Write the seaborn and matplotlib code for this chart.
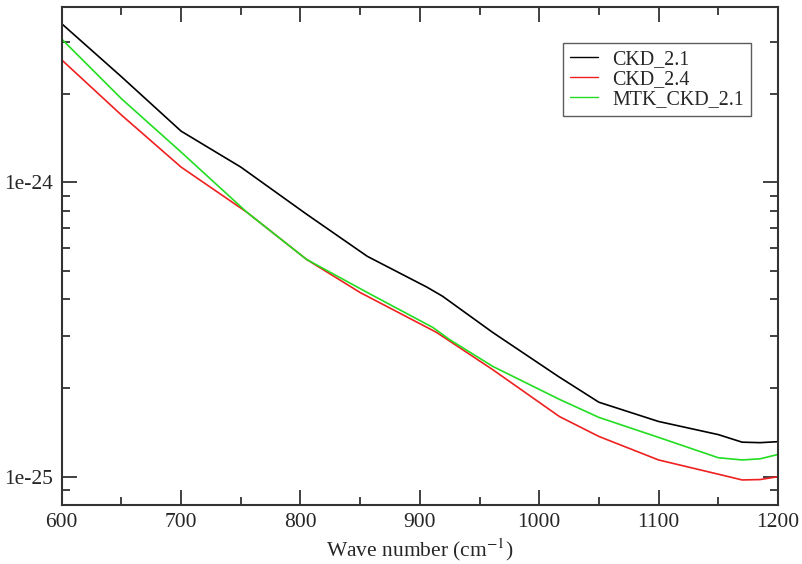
import numpy as np
import pandas as pd
import matplotlib
matplotlib.use("Agg")
import matplotlib.pyplot as plt
import matplotlib.ticker as mticker
import seaborn as sns

# ---- data ----
ckd21_x = [600, 650, 700, 750, 805, 856, 906, 919, 961, 1016, 1050, 1100, 1150, 1170, 1185, 1200]
ckd21_y = [3.45e-24, 2.28e-24, 1.49e-24, 1.125e-24, 7.79e-25, 5.60e-25, 4.40e-25,
           4.10e-25, 3.09e-25, 2.19e-25, 1.79e-25, 1.54e-25, 1.39e-25, 1.31e-25, 1.305e-25, 1.315e-25]

ckd24_x = [600, 650, 700, 755, 805, 850, 914, 961, 1017, 1050, 1100, 1150, 1170, 1185, 1200]
ckd24_y = [2.60e-24, 1.69e-24, 1.125e-24, 7.91e-25, 5.47e-25, 4.22e-25, 3.09e-25,
           2.31e-25, 1.60e-25, 1.37e-25, 1.14e-25, 1.02e-25, 9.75e-26, 9.78e-26, 1.0e-25]

mtk_x = [600, 650, 700, 755, 805, 856, 911, 925, 961, 1017, 1050, 1100, 1150, 1170, 1185, 1200]
mtk_y = [3.06e-24, 1.92e-24, 1.265e-24, 7.91e-25, 5.47e-25, 4.22e-25, 3.21e-25,
         2.92e-25, 2.37e-25, 1.83e-25, 1.59e-25, 1.36e-25, 1.16e-25, 1.14e-25, 1.15e-25, 1.19e-25]

series_names = ["CKD_2.1", "CKD_2.4", "MTK_CKD_2.1"]
series_colors = ["#000000", "#ee2020", "#22dd22"]
x_ticks = [600, 700, 800, 900, 1000, 1100, 1200]
y_ticks = [1e-25, 1e-24]
y_tick_labels = ["1e-25", "1e-24"]
x_label = "Wave number (cm$^{-1}$)"

frames = []
for name, xs, ys in zip(series_names, [ckd21_x, ckd24_x, mtk_x], [ckd21_y, ckd24_y, mtk_y]):
    frames.append(pd.DataFrame({"x": xs, "y": ys, "series": name}))
df = pd.concat(frames, ignore_index=True)

sns.set_style("ticks")
plt.rcParams["font.family"] = ["Liberation Serif", "DejaVu Serif"]
plt.rcParams["mathtext.fontset"] = "stix"

fig, ax = plt.subplots(figsize=(8.02, 5.64), dpi=100)
fig.subplots_adjust(left=0.077, right=0.970, top=0.988, bottom=0.105)

sns.lineplot(data=df, x="x", y="y", hue="series", hue_order=series_names,
             palette=series_colors, linewidth=1.2, ax=ax, legend=True, sort=True)

ax.set_yscale("log")
ax.set_xlim(600, 1200)
ax.set_ylim(8.03e-26, 3.94e-24)

ax.set_xticks(x_ticks)
ax.xaxis.set_minor_locator(mticker.MultipleLocator(50))
ax.yaxis.set_major_locator(mticker.FixedLocator(y_ticks))
ax.yaxis.set_major_formatter(mticker.FixedFormatter(y_tick_labels))
ax.yaxis.set_minor_locator(mticker.LogLocator(base=10, subs=np.arange(2, 10)))
ax.yaxis.set_minor_formatter(mticker.NullFormatter())

ax.tick_params(which="both", direction="in", top=True, right=True, color="#333333", width=1.3)
ax.tick_params(which="major", length=11, labelsize=15.5, pad=6)
ax.tick_params(which="minor", length=6)

for sp in ax.spines.values():
    sp.set_linewidth(1.5)
    sp.set_color("#333333")

ax.set_xlabel(x_label, fontsize=15.5, labelpad=3)
ax.set_ylabel("")

leg = ax.legend(loc="upper right", bbox_to_anchor=(0.962, 0.928), borderaxespad=0,
                fontsize=14.4, frameon=True, fancybox=False, handlelength=1.4,
                handletextpad=0.7, borderpad=0.35, labelspacing=0.05)
leg.get_frame().set_edgecolor("#333333")
leg.get_frame().set_linewidth(1.0)
for line in leg.get_lines():
    line.set_linewidth(1.0)

fig.savefig("out.png", dpi=100)
